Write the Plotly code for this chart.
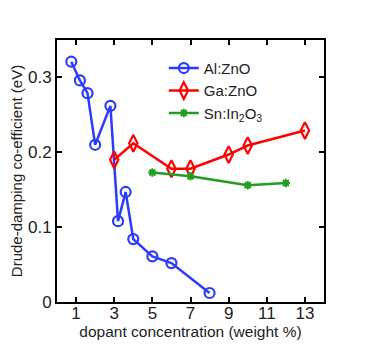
import plotly.graph_objects as go

al_x = [0.75, 1.2, 1.6, 2.0, 2.8, 3.2, 3.6, 4.0, 5.0, 6.0, 8.0]
al_y = [0.321, 0.296, 0.279, 0.210, 0.262, 0.108, 0.147, 0.084, 0.061, 0.052, 0.012]
ga_x = [3, 4, 6, 7, 9, 10, 13]
ga_y = [0.190, 0.212, 0.178, 0.178, 0.197, 0.209, 0.229]
sn_x = [5, 7, 10, 12]
sn_y = [0.173, 0.168, 0.156, 0.159]
x_ticks = [1, 3, 5, 7, 9, 11, 13]
x_tick_labels = ["1", "3", "5", "7", "9", "11", "13"]
y_ticks = [0, 0.1, 0.2, 0.3]
y_tick_labels = ["0", "0.1", "0.2", "0.3"]

blue = "#2b3cff"
red = "#ff0000"
green = "#1f9e1f"
FONT = "Liberation Sans, Arial"

fig = go.Figure()
fig.add_trace(go.Scatter(x=al_x, y=al_y, mode="lines+markers", name="Al:ZnO",
                         line=dict(color=blue, width=2.5),
                         marker=dict(symbol="circle-open", size=10, color=blue, line=dict(width=2.2))))
fig.add_trace(go.Scatter(x=ga_x, y=ga_y, mode="lines+markers", name="Ga:ZnO",
                         line=dict(color=red, width=2.5),
                         marker=dict(symbol="diamond-tall-open", size=12, color=red, line=dict(width=2.2))))
fig.add_trace(go.Scatter(x=sn_x, y=sn_y, mode="lines+markers", name="Sn:In<sub>2</sub>O<sub>3</sub>",
                         line=dict(color=green, width=2.5),
                         marker=dict(symbol="asterisk-open", size=7, color=green, line=dict(width=2, color=green))))

axis_common = dict(showline=True, linecolor="black", linewidth=2, mirror="ticks",
                   ticks="inside", ticklen=5, tickwidth=1.5, tickcolor="black",
                   showgrid=False, zeroline=False, automargin=False,
                   tickfont=dict(family=FONT, size=17, color="#222"))

fig.update_xaxes(range=[0, 14], tickvals=x_ticks, ticktext=x_tick_labels, tickangle=0,
                 ticklabelstandoff=-5, **axis_common,
                 title=dict(text="dopant concentration (weight %)", standoff=2,
                            font=dict(family=FONT, size=15.5, color="#222")))
fig.update_yaxes(range=[0, 0.35], tickvals=y_ticks, ticktext=y_tick_labels, **axis_common,
                 title=dict(text="Drude-damping co-efficient (eV)", standoff=2,
                            font=dict(family=FONT, size=15, color="#222")))

fig.update_layout(width=381, height=355, margin=dict(l=57, r=57, t=40, b=53),
                  plot_bgcolor="white", paper_bgcolor="white",
                  legend=dict(x=0.40, y=0.955, xanchor="left", yanchor="top",
                              bgcolor="rgba(0,0,0,0)", itemwidth=30, tracegroupgap=0,
                              font=dict(family=FONT, size=15, color="#222")),
                  showlegend=True)

fig.write_html("out.html", config={"displayModeBar": False},
               post_script="document.body.style.margin='0';document.body.style.overflow='hidden';")
